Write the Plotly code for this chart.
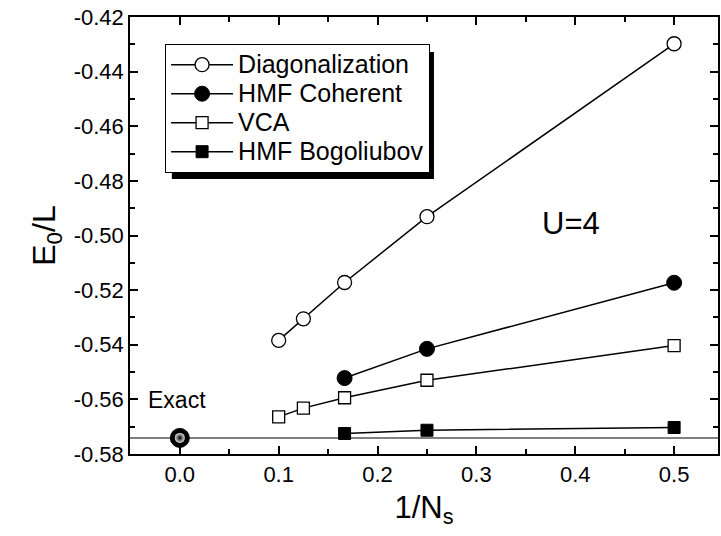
import plotly.graph_objects as go

# ---- data ----
diag_x = [0.1, 0.125, 1/6, 0.25, 0.5]
diag_y = [-0.5384, -0.5305, -0.5172, -0.4931, -0.4298]
coh_x = [1/6, 0.25, 0.5]
coh_y = [-0.5522, -0.5415, -0.5173]
vca_x = [0.1, 0.125, 1/6, 0.25, 0.5]
vca_y = [-0.5664, -0.5632, -0.5594, -0.5530, -0.5403]
bog_x = [1/6, 0.25, 0.5]
bog_y = [-0.5725, -0.5713, -0.5703]
exact_x = [0.0]
exact_y = [-0.5741]

series_names = ["Diagonalization", "HMF Coherent", "VCA", "HMF Bogoliubov"]
x_ticks = [0.0, 0.1, 0.2, 0.3, 0.4, 0.5]
y_ticks = [-0.58, -0.56, -0.54, -0.52, -0.50, -0.48, -0.46, -0.44, -0.42]

FONT = "Liberation Sans, Arial, sans-serif"
W, H = 721, 536
ML, MR, MT, MB = 130, 1, 17, 82
PW, PH = W - ML - MR, H - MT - MB


def leg(name):
    return f'<span style="font-size:25px">{name}</span>'


fig = go.Figure()
line = dict(color="black", width=1.5)
fig.add_trace(go.Scatter(x=diag_x, y=diag_y, mode="lines+markers", name=leg(series_names[0]),
                         line=line, marker=dict(symbol="circle", size=14, color="white",
                                                line=dict(color="black", width=1.3))))
fig.add_trace(go.Scatter(x=coh_x, y=coh_y, mode="lines+markers", name=leg(series_names[1]),
                         line=line, marker=dict(symbol="circle", size=15, color="black",
                                                line=dict(color="black", width=1))))
fig.add_trace(go.Scatter(x=vca_x, y=vca_y, mode="lines+markers", name=leg(series_names[2]),
                         line=line, marker=dict(symbol="square", size=12, color="white",
                                                line=dict(color="black", width=1.3))))
fig.add_trace(go.Scatter(x=bog_x, y=bog_y, mode="lines+markers", name=leg(series_names[3]),
                         line=line, marker=dict(symbol="square", size=12, color="black",
                                                line=dict(color="black", width=1))))
# exact result: black sphere with a light highlight
fig.add_trace(go.Scatter(x=exact_x, y=exact_y, mode="markers", name="Exact", showlegend=False,
                         marker=dict(symbol="circle", size=19, color="black",
                                     line=dict(color="black", width=1))))
fig.add_trace(go.Scatter(x=exact_x, y=exact_y, mode="markers", name="Exact highlight",
                         showlegend=False, hoverinfo="skip",
                         marker=dict(symbol="circle", size=10, color="#e0e0e0",
                                     gradient=dict(type="radial", color="black"),
                                     line=dict(width=0))))

# exact reference line
fig.add_shape(type="line", xref="paper", yref="y", x0=0, x1=1, y0=exact_y[0], y1=exact_y[0],
              line=dict(color="#808080", width=2), layer="below")

# legend shadow (pixel box of the legend, offset)
lx0, lx1, ly0, ly1 = 165, 428, 44, 171
dx, dy = 7, 8
fig.add_shape(type="rect", xref="paper", yref="paper",
              x0=(lx0 + dx - ML) / PW, x1=(lx1 + dx - ML) / PW,
              y0=(H - MB - (ly1 + dy)) / PH, y1=(H - MB - (ly0 + dy)) / PH,
              fillcolor="black", line=dict(width=0), layer="above")

fig.add_annotation(x=0.396, y=-0.4957, text="U=4", showarrow=False,
                   font=dict(family=FONT, size=31, color="black"))
fig.add_annotation(x=-0.0025, y=-0.5604, text="Exact", showarrow=False,
                   font=dict(family=FONT, size=23, color="black"))

axis_common = dict(showline=True, linecolor="black", linewidth=1.5, mirror="ticks",
                   ticks="inside", ticklen=8, tickwidth=1.5, tickcolor="black",
                   showgrid=False, zeroline=False,
                   tickfont=dict(family=FONT, size=22, color="black"))

fig.update_layout(
    width=W, height=H,
    margin=dict(l=ML, r=MR, t=MT, b=MB),
    paper_bgcolor="white", plot_bgcolor="white",
    font=dict(family=FONT, color="black"),
    xaxis=dict(range=[-0.0504, 0.5444], tickvals=x_ticks,
               ticktext=[f"{v:.1f}" for v in x_ticks],
               minor=dict(dtick=0.05, tick0=0, ticks="inside", ticklen=5, tickwidth=1.5,
                          tickcolor="black", showgrid=False),
               title=dict(text="1/N<sub>s</sub>", font=dict(family=FONT, size=31), standoff=10),
               **axis_common),
    yaxis=dict(range=[-0.58, -0.42], tickvals=y_ticks,
               ticktext=[f"{v:.2f}" for v in y_ticks],
               minor=dict(dtick=0.01, tick0=-0.58, ticks="inside", ticklen=5, tickwidth=1.5,
                          tickcolor="black", showgrid=False),
               title=dict(text="E<sub>0</sub>/L", font=dict(family=FONT, size=32), standoff=8),
               **axis_common),
    legend=dict(x=(lx0 - ML) / PW, y=(H - MB - ly0) / PH, xanchor="left", yanchor="top",
                bgcolor="white", bordercolor="black", borderwidth=1.2,
                font=dict(family=FONT, size=20, color="black"),
                itemwidth=62, tracegroupgap=0),
)

fig.write_html("out.html")
